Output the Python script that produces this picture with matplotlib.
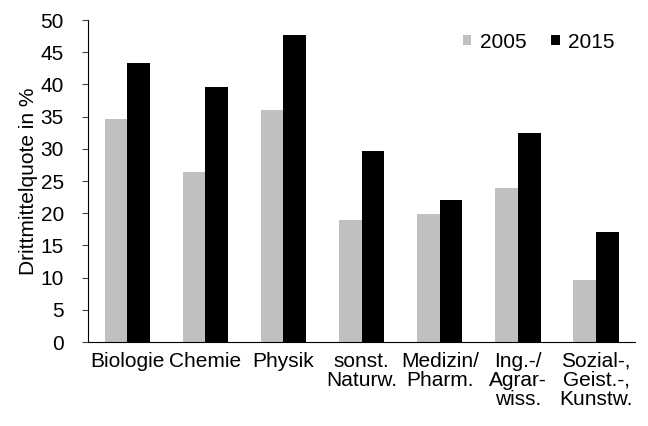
import matplotlib
matplotlib.use("Agg")
import matplotlib.pyplot as plt
import numpy as np

plt.rcParams['font.family'] = ['Liberation Sans', 'DejaVu Sans']

categories = ["Biologie", "Chemie", "Physik", "sonst.\nNaturw.", "Medizin/\nPharm.",
              "Ing.-/\nAgrar-\nwiss.", "Sozial-,\nGeist.-,\nKunstw."]
v2005 = [34.6, 26.4, 36.1, 19.0, 19.9, 23.9, 9.6]
v2015 = [43.4, 39.6, 47.6, 29.7, 22.0, 32.5, 17.1]
yticks = list(range(0, 51, 5))

FS = 15
fig = plt.figure(figsize=(6.48, 4.26), dpi=100)
ax = fig.add_axes([0.136, 0.197, 0.844, 0.756])
x = np.arange(len(categories))
w = 0.29
ax.bar(x - w/2, v2005, w, color='#C0C0C0', label='2005')
ax.bar(x + w/2, v2015, w, color='#000000', label='2015')
ax.set_xlim(-0.5, len(categories) - 0.5)
ax.set_ylim(0, 50)
ax.set_yticks(yticks)
ax.set_yticklabels([str(t) for t in yticks], fontsize=FS)
ax.set_xticks(x)
ax.set_xticklabels(categories, fontsize=FS, linespacing=1.0)
ax.tick_params(axis='x', length=0, pad=7)
ax.tick_params(axis='y', length=4.5, width=0.8, color='#404040', pad=13)
for s in ['top', 'right']:
    ax.spines[s].set_visible(False)
ax.spines['left'].set_color('#000000')
ax.spines['bottom'].set_color('#000000')
ax.set_ylabel('Drittmittelquote in %', fontsize=FS, labelpad=2)
leg = ax.legend(loc='upper right', bbox_to_anchor=(0.985, 1.0), ncol=2, frameon=False,
                fontsize=FS, handlelength=0.4, handleheight=0.4, handletextpad=0.4,
                columnspacing=1.2, borderaxespad=0.2)
fig.savefig('out.png', dpi=100)
